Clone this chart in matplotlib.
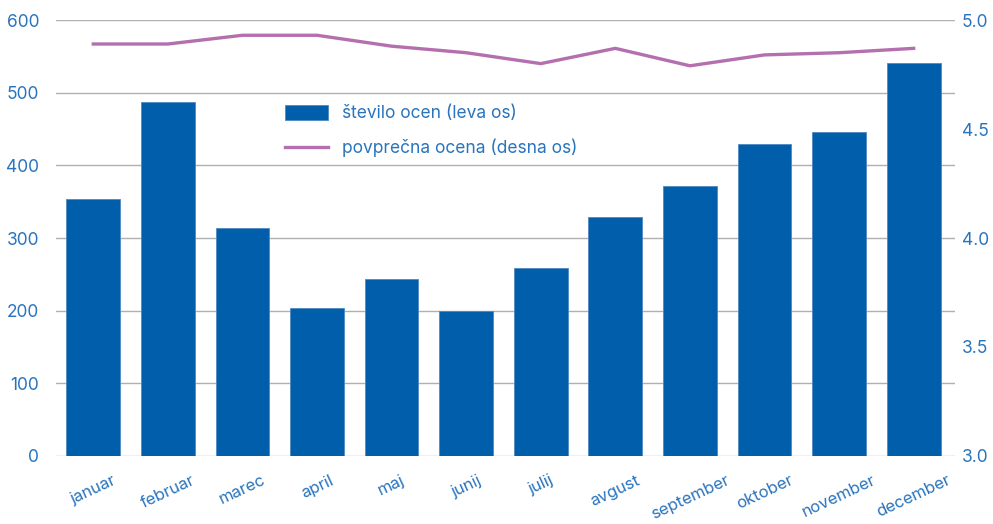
import matplotlib
matplotlib.use('Agg')
import matplotlib.pyplot as plt
import numpy as np

plt.rcParams['font.family'] = ['Inter', 'DejaVu Sans']

BLUE = '#005eaa'
PURPLE = '#b46fae'
TEXT = '#2a74bd'
GRID = '#b0b0b0'

months = ['januar', 'februar', 'marec', 'april', 'maj', 'junij',
          'julij', 'avgust', 'september', 'oktober', 'november', 'december']
counts = [354, 487, 314, 204, 244, 199, 259, 329, 371, 429, 446, 541]
avg_rating = [4.89, 4.89, 4.93, 4.93, 4.88, 4.85, 4.80, 4.87, 4.79, 4.84, 4.85, 4.87]

fig = plt.figure(figsize=(9.93, 5.24), dpi=100)
ax = fig.add_axes([0.0564, 0.1298, 0.905, 0.832])
ax2 = ax.twinx()

x = np.arange(len(months))
bars = ax.bar(x, counts, width=0.72, color=BLUE, edgecolor='#4f8ac4',
              linewidth=0.6, zorder=3, label='število ocen (leva os)')
line, = ax2.plot(x, avg_rating, color=PURPLE, linewidth=2.4,
                 label='povprečna ocena (desna os)')

ax.set_xlim(-0.5, 11.55)
ax.set_ylim(0, 600)
ax.set_yticks(range(0, 601, 100))
ax2.set_ylim(3.0, 5.0)
ax2.set_yticks([3.0, 3.5, 4.0, 4.5, 5.0])
ax2.set_yticklabels(['3.0', '3.5', '4.0', '4.5', '5.0'])

ax.grid(axis='y', color=GRID, linewidth=1, zorder=0)
ax.set_axisbelow(True)
for a in (ax, ax2):
    for s in a.spines.values():
        s.set_visible(False)
    a.tick_params(length=0, colors=TEXT, labelsize=12.5)

ax.set_xticks(x)
ax.set_xticklabels(months, rotation=25, ha='center', fontsize=12)
ax.tick_params(axis='x', pad=12)
ax.tick_params(axis='y', pad=12)
ax2.tick_params(axis='y', pad=5)

fig.legend(handles=[bars, line], loc='upper left',
           bbox_to_anchor=(0.271, 0.83), frameon=False, fontsize=12.5,
           labelcolor=TEXT, handlelength=2.5, handleheight=1.0,
           labelspacing=0.95, handletextpad=0.8)

fig.savefig('out.png', dpi=100)
